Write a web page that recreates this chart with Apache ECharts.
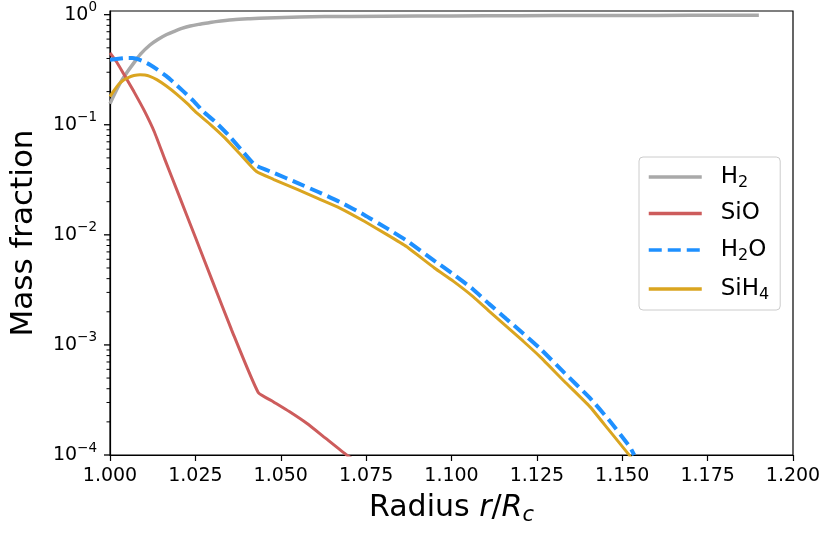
<!DOCTYPE html>
<html>
<head>
<meta charset="utf-8">
<script src="https://cdn.jsdelivr.net/npm/echarts@6/dist/echarts.min.js"></script>
<style>
  html, body { margin: 0; padding: 0; background: #fff; }
  #chart { width: 830px; height: 538px; }
</style>
</head>
<body>
<div id="chart"></div>
<script>
// ---- data ----
const seriesNames = ['H2', 'SiO', 'H2O', 'SiH4'];

const h2Radius = [1.000, 1.0015, 1.003, 1.005, 1.007, 1.009, 1.0117, 1.014, 1.0166, 1.019, 1.021, 1.0235, 1.0263, 1.029, 1.031, 1.036, 1.041, 1.046, 1.0556, 1.07, 1.09, 1.11, 1.13, 1.15, 1.17, 1.19];
const h2Values = [0.155, 0.195, 0.24, 0.30, 0.365, 0.44, 0.53, 0.595, 0.66, 0.71, 0.75, 0.79, 0.82, 0.845, 0.865, 0.9, 0.92, 0.935, 0.953, 0.965, 0.972, 0.977, 0.981, 0.984, 0.986, 0.988];

const sioRadius = [1.000, 1.002, 1.004, 1.007, 1.010, 1.013, 1.016, 1.020, 1.025, 1.030, 1.0356, 1.0434, 1.0478, 1.0525, 1.0576, 1.063, 1.0693, 1.072];
const sioValues = [0.45, 0.37, 0.29, 0.20, 0.135, 0.086, 0.049, 0.0237, 0.0095, 0.0038, 0.00137, 0.00037, 0.000305, 0.000248, 0.000194, 0.000143, 0.0001, 0.000088];

const h2oRadius = [1.000, 1.0025, 1.005, 1.0065, 1.0078, 1.0095, 1.0117, 1.014, 1.0166, 1.019, 1.0215, 1.0245, 1.0273, 1.031, 1.0346, 1.0385, 1.0424, 1.048, 1.055, 1.061, 1.0673, 1.0746, 1.081, 1.0868, 1.095, 1.1005, 1.1063, 1.111, 1.116, 1.121, 1.1259, 1.133, 1.1405, 1.146, 1.1522, 1.1535];
const h2oValues = [0.39, 0.398, 0.405, 0.405, 0.398, 0.38, 0.351, 0.315, 0.275, 0.237, 0.201, 0.164, 0.132, 0.105, 0.081, 0.059, 0.0433, 0.0365, 0.0295, 0.0245, 0.0199, 0.0151, 0.0115, 0.0089, 0.0058, 0.0044, 0.0032, 0.00236, 0.00173, 0.00127, 0.00093, 0.00056, 0.00033, 0.00021, 0.000119, 0.0001];

const sih4Radius = [1.000, 1.0012, 1.0025, 1.004, 1.0055, 1.007, 1.0088, 1.0102, 1.0115, 1.0137, 1.0165, 1.0195, 1.0225, 1.0254, 1.0295, 1.0337, 1.038, 1.0429, 1.048, 1.055, 1.061, 1.0673, 1.0746, 1.081, 1.0868, 1.095, 1.1005, 1.1063, 1.111, 1.116, 1.121, 1.1259, 1.133, 1.1405, 1.146, 1.1517, 1.153];
const sih4Values = [0.18, 0.205, 0.232, 0.255, 0.27, 0.28, 0.285, 0.283, 0.277, 0.257, 0.225, 0.19, 0.157, 0.128, 0.1, 0.0757, 0.0546, 0.0376, 0.0318, 0.0257, 0.0213, 0.0175, 0.0132, 0.0101, 0.00783, 0.005, 0.0038, 0.00275, 0.00203, 0.00148, 0.00108, 0.000783, 0.000468, 0.000275, 0.00017, 0.000103, 0.000091];

const yMajorTicks = [1e-4, 1e-3, 1e-2, 1e-1, 1];
const yMinorTicks = [];
for (let k = -4; k <= -1; k++) {
  for (let m = 2; m <= 9; m++) yMinorTicks.push(+(m * Math.pow(10, k)).toPrecision(3));
}

const colors = { H2: '#a9a9a9', SiO: '#cd5c5c', H2O: '#1e90ff', SiH4: '#daa520' };
const FONT = 'DejaVu Sans';

function pairs(xs, ys) { return xs.map((x, i) => [x, ys[i]]); }

const legendLabels = {
  H2: '{t|H}{sub|2}',
  SiO: '{t|SiO}',
  H2O: '{t|H}{sub|2}{t|O}',
  SiH4: '{t|SiH}{sub|4}'
};

function tickSeries(values, len, width) {
  return {
    type: 'custom', clip: false, z: 10, silent: true,
    data: values.map(v => [1.0, v]),
    renderItem: (params, api) => {
      const p = api.coord([api.value(0), api.value(1)]);
      return {
        type: 'line',
        shape: { x1: p[0] - len, y1: p[1], x2: p[0], y2: p[1] },
        style: { stroke: '#000', lineWidth: width }
      };
    }
  };
}

const chart = echarts.init(document.getElementById('chart'), null, { renderer: 'canvas' });

const option = {
  backgroundColor: '#ffffff',
  animation: false,
  grid: {
    left: 110, right: 37, top: 11, bottom: 83,
    show: true, borderColor: '#000', borderWidth: 1.2, backgroundColor: 'transparent'
  },
  legend: {
    data: seriesNames,
    orient: 'vertical',
    left: 639, top: 157,
    padding: [6, 11, 7, 8],
    itemGap: 11,
    itemWidth: 53,
    itemHeight: 14,
    align: 'left',
    backgroundColor: 'rgba(255,255,255,0.8)',
    borderColor: '#cccccc', borderWidth: 1, borderRadius: 4,
    itemStyle: { opacity: 0 },
    lineStyle: { width: 3.5 },
    formatter: name => legendLabels[name],
    textStyle: {
      padding: [0, 0, 0, 14],
      rich: {
        t: { fontFamily: FONT, fontSize: 23, color: '#000', lineHeight: 28 },
        sub: { fontFamily: FONT, fontSize: 16, color: '#000', padding: [12, 0, 0, 0], lineHeight: 16 }
      }
    }
  },
  xAxis: {
    type: 'value',
    min: 1.0, max: 1.2, interval: 0.025,
    name: '{a|Radius }{i|r}{a|/}{i|R}{sub|c}',
    nameLocation: 'middle',
    nameGap: 36,
    nameTextStyle: {
      rich: {
        a: { fontFamily: FONT, fontSize: 30, color: '#000', lineHeight: 34 },
        i: { fontFamily: FONT, fontSize: 30, fontStyle: 'italic', color: '#000', lineHeight: 34 },
        sub: { fontFamily: FONT, fontSize: 21, fontStyle: 'italic', color: '#000', padding: [14, 0, 0, 0], lineHeight: 21 }
      }
    },
    axisLine: { show: true, onZero: false, lineStyle: { color: '#000', width: 1.2 } },
    axisTick: { show: true, inside: false, length: 6, lineStyle: { color: '#000', width: 1.2 } },
    axisLabel: {
      show: true, margin: 12, fontFamily: FONT, fontSize: 19, color: '#000',
      formatter: v => v.toFixed(3),
      showMinLabel: true, showMaxLabel: true
    },
    splitLine: { show: false }
  },
  yAxis: {
    type: 'log',
    logBase: 10,
    min: 1e-4, max: 1.08,
    name: 'Mass fraction',
    nameLocation: 'middle',
    nameGap: 71,
    nameTextStyle: { fontFamily: FONT, fontSize: 31, color: '#000' },
    axisLine: { show: true, lineStyle: { color: '#000', width: 1.2 } },
    axisTick: { show: false },
    axisLabel: {
      show: true, margin: 13, color: '#000',
      customValues: yMajorTicks,
      formatter: v => {
        const e = Math.round(Math.log10(v));
        return '{b|10}{s|' + (e < 0 ? '\u2212' + (-e) : String(e)) + '}';
      },
      rich: {
        b: { fontFamily: FONT, fontSize: 19, color: '#000', lineHeight: 22 },
        s: { fontFamily: FONT, fontSize: 13.5, color: '#000', padding: [0, 0, 14, 0], lineHeight: 14 }
      }
    },
    splitLine: { show: false }
  },
  series: [
    {
      name: 'H2', type: 'line', showSymbol: false, symbol: 'none', smooth: 0.3,
      data: pairs(h2Radius, h2Values),
      lineStyle: { color: colors.H2, width: 3.5 }, itemStyle: { color: colors.H2 }, clip: true
    },
    {
      name: 'SiO', type: 'line', showSymbol: false, symbol: 'none', smooth: 0.15,
      data: pairs(sioRadius, sioValues),
      lineStyle: { color: colors.SiO, width: 3 }, itemStyle: { color: colors.SiO }, clip: true
    },
    {
      name: 'H2O', type: 'line', showSymbol: false, symbol: 'none', smooth: 0.15,
      data: pairs(h2oRadius, h2oValues),
      lineStyle: { color: colors.H2O, width: 4, type: [13, 6] }, itemStyle: { color: colors.H2O }, clip: true
    },
    {
      name: 'SiH4', type: 'line', showSymbol: false, symbol: 'none', smooth: 0.15,
      data: pairs(sih4Radius, sih4Values),
      lineStyle: { color: colors.SiH4, width: 3 }, itemStyle: { color: colors.SiH4 }, clip: true
    },
    tickSeries(yMajorTicks, 6, 1.3),
    tickSeries(yMinorTicks, 3.5, 1)
  ]
};

chart.setOption(option);
</script>
</body>
</html>
